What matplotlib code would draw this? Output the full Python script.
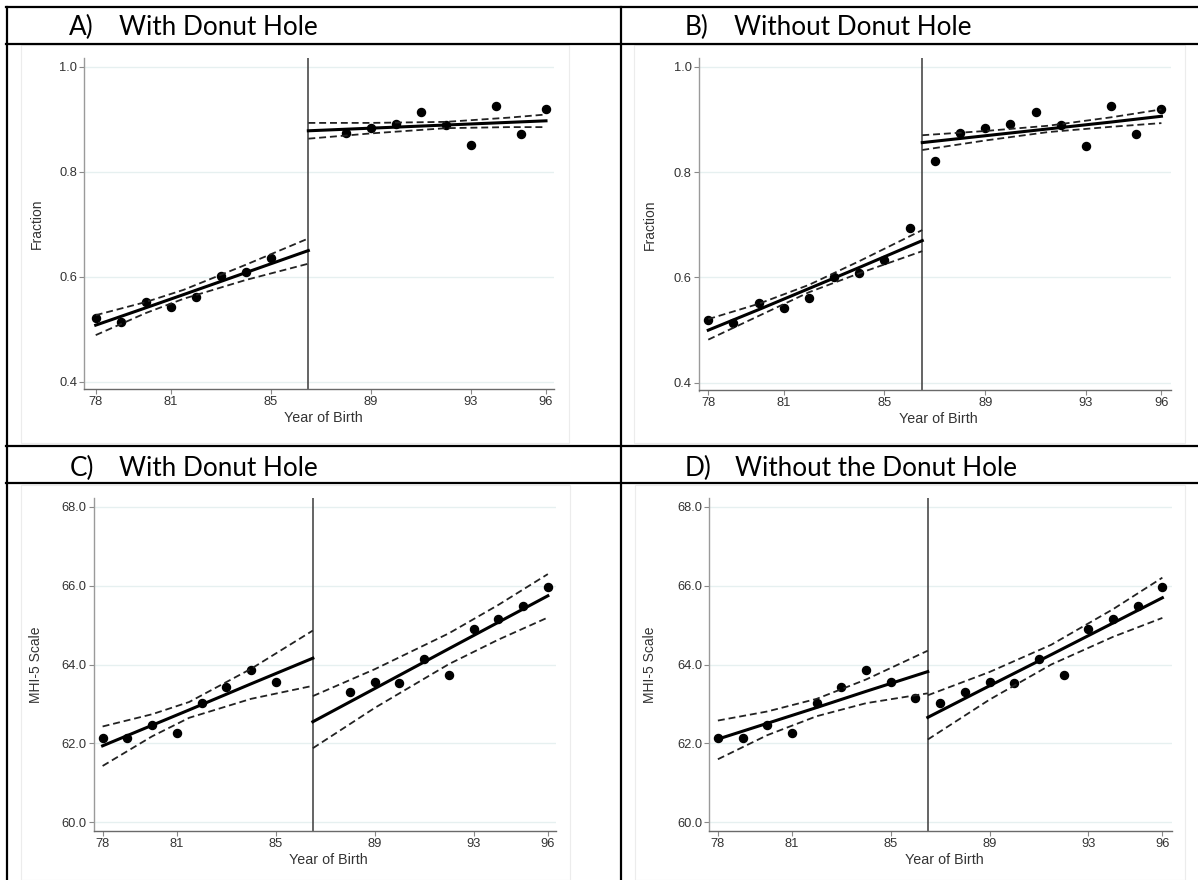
import numpy as np
import matplotlib
matplotlib.use("Agg")
import matplotlib.pyplot as plt
from matplotlib.lines import Line2D
from matplotlib.patches import Rectangle

# ---- data ----
years_a_left = [78, 79, 80, 81, 82, 83, 84, 85]
years_a_right = [88, 89, 90, 91, 92, 93, 94, 95, 96]
years_b_left = [78, 79, 80, 81, 82, 83, 84, 85, 86]
years_b_right = [87, 88, 89, 90, 91, 92, 93, 94, 95, 96]

frac_a_left = [0.521, 0.514, 0.552, 0.543, 0.562, 0.601, 0.610, 0.635]
frac_a_right = [0.874, 0.883, 0.890, 0.914, 0.889, 0.850, 0.925, 0.872, 0.920]
frac_b_left = [0.520, 0.514, 0.552, 0.542, 0.561, 0.601, 0.609, 0.634, 0.694]
frac_b_right = [0.821, 0.875, 0.883, 0.891, 0.914, 0.889, 0.849, 0.925, 0.872, 0.920]

mhi_c_left = [62.15, 62.15, 62.48, 62.27, 63.03, 63.44, 63.86, 63.55]
mhi_c_right = [63.30, 63.55, 63.52, 64.14, 63.74, 64.89, 65.16, 65.47, 65.96]
mhi_d_left = [62.15, 62.15, 62.48, 62.27, 63.03, 63.44, 63.86, 63.55, 63.14]
mhi_d_right = [63.03, 63.30, 63.55, 63.52, 64.14, 63.74, 64.89, 65.16, 65.47, 65.96]

# fitted line and 95% CI, read at a few x positions
fitx_a_left = [78, 80, 81.5, 84, 86.5]
fit_a_left = [0.508, 0.541, 0.566, 0.608, 0.650]
up_a_left = [0.527, 0.552, 0.575, 0.623, 0.673]
lo_a_left = [0.489, 0.531, 0.558, 0.594, 0.625]
fitx_a_right = [86.5, 89, 92, 94.5, 96]
fit_a_right = [0.878, 0.883, 0.889, 0.894, 0.897]
up_a_right = [0.893, 0.893, 0.895, 0.903, 0.909]
lo_a_right = [0.863, 0.873, 0.883, 0.885, 0.885]

fitx_b_left = [78, 80, 82, 84, 86.5]
fit_b_left = [0.500, 0.539, 0.579, 0.619, 0.670]
up_b_left = [0.521, 0.550, 0.586, 0.631, 0.690]
lo_b_left = [0.482, 0.527, 0.572, 0.608, 0.650]
fitx_b_right = [86.5, 89, 91.5, 94, 96]
fit_b_right = [0.856, 0.869, 0.882, 0.895, 0.906]
up_b_right = [0.870, 0.878, 0.888, 0.904, 0.919]
lo_b_right = [0.842, 0.860, 0.876, 0.886, 0.893]

fitx_c_left = [78, 80, 81.5, 84, 86.5]
fit_c_left = [61.94, 62.46, 62.85, 63.51, 64.16]
up_c_left = [62.43, 62.74, 63.05, 63.89, 64.86]
lo_c_left = [61.43, 62.18, 62.65, 63.13, 63.46]
fitx_c_right = [86.5, 89, 92, 94, 96]
fit_c_right = [62.55, 63.39, 64.40, 65.07, 65.74]
up_c_right = [63.20, 63.88, 64.79, 65.51, 66.29]
lo_c_right = [61.88, 62.90, 64.01, 64.63, 65.19]

fitx_d_left = [78, 80, 82, 84, 86.5]
fit_d_left = [62.11, 62.51, 62.91, 63.32, 63.82]
up_d_left = [62.58, 62.81, 63.13, 63.62, 64.35]
lo_d_left = [61.60, 62.21, 62.69, 63.02, 63.27]
fitx_d_right = [86.5, 89, 91.5, 94, 96]
fit_d_right = [62.66, 63.46, 64.25, 65.05, 65.69]
up_d_right = [63.22, 63.81, 64.50, 65.40, 66.20]
lo_d_right = [62.10, 63.11, 64.00, 64.70, 65.18]

cutoff = 86.5
xticks = [78, 81, 85, 89, 93, 96]
frac_ticks = [0.4, 0.6, 0.8, 1.0]
mhi_ticks = [60, 62, 64, 66, 68]

headers = ["A)", "B)", "C)", "D)"]
titles = ["With Donut Hole", "Without Donut Hole", "With Donut Hole", "Without the Donut Hole"]

# ---- figure ----
W, H = 1198, 880
fig = plt.figure(figsize=(W / 100, H / 100), dpi=100)
plt.rcParams['lines.scale_dashes'] = False


def fx(px):
    return px / W


def fy(py):
    return 1 - py / H


def add_axes(l, r, t, b):
    return fig.add_axes([fx(l), fy(b), fx(r - l), (b - t) / H])


# faint borders of the pasted graph images
for (l, r, t, b) in [(21, 569, 45, 443), (634, 1185, 45, 443), (21, 570, 485, 880), (635, 1185, 485, 880)]:
    fig.add_artist(Rectangle((fx(l), fy(b)), fx(r - l), (b - t) / H, transform=fig.transFigure,
                             fill=False, edgecolor='#ececec', lw=0.8))

panels = [
    dict(box=(84.2, 554, 58.3, 389.5), xlim=(77.54, 96.32), ylim=(0.3855, 1.016), ticks=frac_ticks,
         ylab="Fraction", ylab_x=-0.0856, xlab_x=0.509,
         segs=[(years_a_left, frac_a_left, fitx_a_left, fit_a_left, up_a_left, lo_a_left),
               (years_a_right, frac_a_right, fitx_a_right, fit_a_right, up_a_right, lo_a_right)]),
    dict(box=(698.7, 1171, 58.3, 390.5), xlim=(77.62, 96.38), ylim=(0.3855, 1.016), ticks=frac_ticks,
         ylab="Fraction", ylab_x=-0.089, xlab_x=0.508,
         segs=[(years_b_left, frac_b_left, fitx_b_left, fit_b_left, up_b_left, lo_b_left),
               (years_b_right, frac_b_right, fitx_b_right, fit_b_right, up_b_right, lo_b_right)]),
    dict(box=(93.7, 556, 498.3, 830.7), xlim=(77.64, 96.33), ylim=(59.79, 68.21), ticks=mhi_ticks,
         ylab="MHI-5 Scale", ylab_x=-0.11, xlab_x=0.507,
         segs=[(years_a_left, mhi_c_left, fitx_c_left, fit_c_left, up_c_left, lo_c_left),
               (years_a_right, mhi_c_right, fitx_c_right, fit_c_right, up_c_right, lo_c_right)]),
    dict(box=(709, 1172, 498.3, 830.7), xlim=(77.64, 96.39), ylim=(59.79, 68.21), ticks=mhi_ticks,
         ylab="MHI-5 Scale", ylab_x=-0.113, xlab_x=0.508,
         segs=[(years_b_left, mhi_d_left, fitx_d_left, fit_d_left, up_d_left, lo_d_left),
               (years_b_right, mhi_d_right, fitx_d_right, fit_d_right, up_d_right, lo_d_right)]),
]

for p in panels:
    ax = add_axes(*p['box'])
    ax.set_xlim(*p['xlim'])
    ax.set_ylim(*p['ylim'])
    for s in ['top', 'right']:
        ax.spines[s].set_visible(False)
    ax.spines['left'].set_color('#9a9a9a')
    ax.spines['bottom'].set_color('#6a6a6a')
    ax.spines['left'].set_linewidth(1.0)
    ax.spines['bottom'].set_linewidth(1.0)
    ax.set_xticks(xticks)
    ax.set_yticks(p['ticks'])
    ax.set_yticklabels(["%.1f" % t for t in p['ticks']])
    ax.tick_params(axis='both', direction='out', length=3.5, width=0.8, color='#8a8a8a',
                   labelsize=9.3, labelcolor='#333333', pad=1.5)
    for t in p['ticks']:
        ax.axhline(t, color='#e6f0f0', lw=1.0, zorder=0)
    ax.axvline(cutoff, color='#4a4a4a', lw=1.2, zorder=1)

    for xs, ys, fxs, fit, up, lo in p['segs']:
        ax.plot(xs, ys, 'o', color='black', ms=5.8, zorder=3)
        ax.plot(fxs, fit, '-', color='black', lw=2.2, zorder=4)
        ax.plot(fxs, up, '--', color='#222222', lw=1.3, dashes=(5.0, 2.8), zorder=4)
        ax.plot(fxs, lo, '--', color='#222222', lw=1.3, dashes=(5.0, 2.8), zorder=4)

    ax.set_ylabel(p['ylab'], fontsize=10, color='#333333', family='Liberation Sans')
    ax.yaxis.set_label_coords(p['ylab_x'], 0.5)
    ax.set_xlabel("Year of Birth", fontsize=10.3, color='#333333', family='Liberation Sans')
    ax.xaxis.set_label_coords(p['xlab_x'], -0.087)
    ax.xaxis.label.set_va('center')
    for lab in ax.get_xticklabels() + ax.get_yticklabels():
        lab.set_family('Liberation Sans')

# ---- table lines ----
lw_t = 1.6
for y in [7.5, 43.8, 446, 483]:
    fig.add_artist(Line2D([fx(6), fx(W)], [fy(y), fy(y)], color='black', lw=lw_t, transform=fig.transFigure))
for x in [7, 621]:
    fig.add_artist(Line2D([fx(x), fx(x)], [fy(6.7), fy(H)], color='black', lw=lw_t, transform=fig.transFigure))

# ---- headers ----
hdr_pos = [(69, 119.4, 35), (685, 734, 35), (69.6, 119.4, 476), (685, 734.6, 476)]
for (xl, xt, yb), h, t in zip(hdr_pos, headers, titles):
    fig.text(fx(xl), fy(yb), h, fontsize=18.8, family='Lato', va='baseline', ha='left')
    fig.text(fx(xt), fy(yb), t, fontsize=18.8, family='Lato', va='baseline', ha='left')

fig.savefig("out.png", dpi=100)
